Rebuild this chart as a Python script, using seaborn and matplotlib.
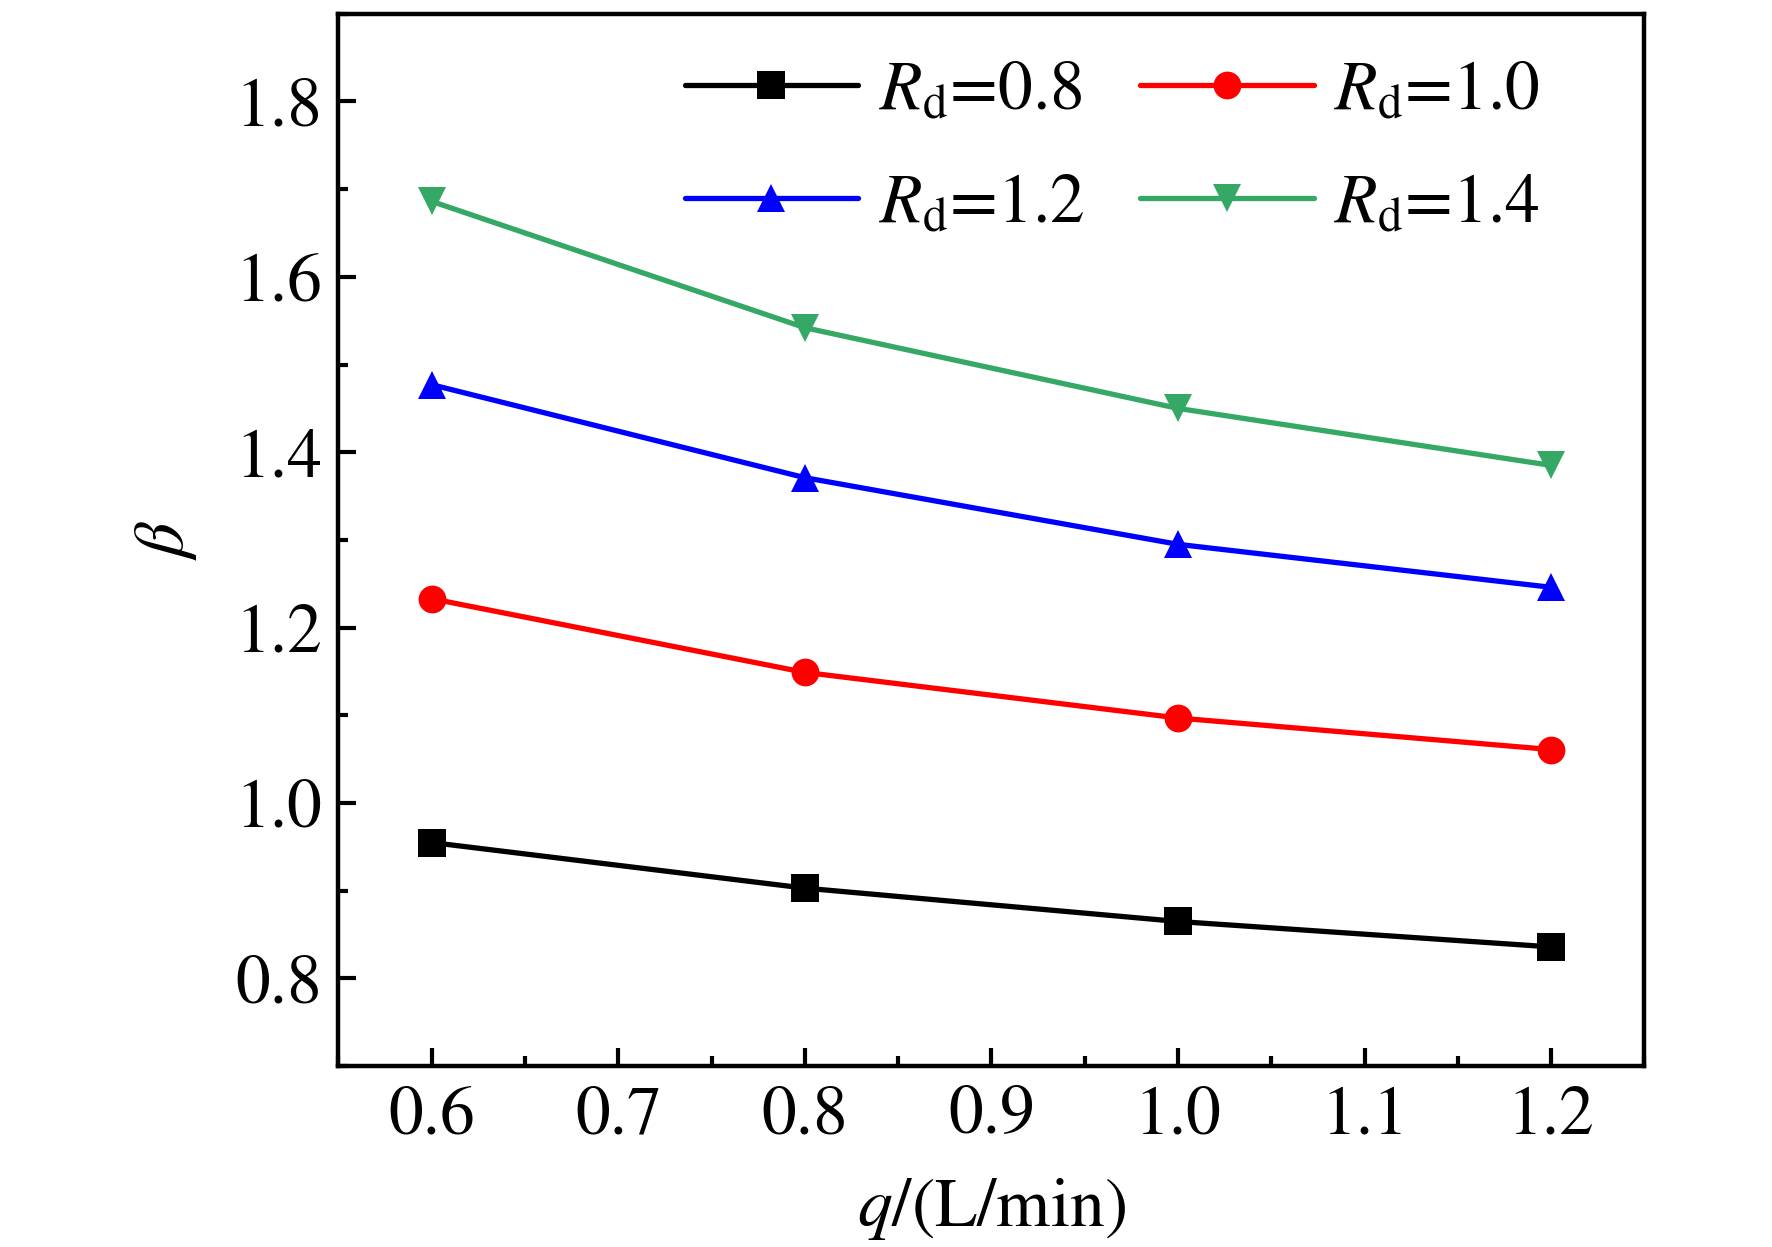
import pandas as pd
import matplotlib
matplotlib.use("Agg")
import matplotlib.pyplot as plt
from matplotlib.ticker import MultipleLocator, FormatStrFormatter
import seaborn as sns

# values
q = [0.6, 0.8, 1.0, 1.2]
beta_08 = [0.955, 0.903, 0.865, 0.836]
beta_10 = [1.233, 1.149, 1.097, 1.061]
beta_12 = [1.477, 1.371, 1.295, 1.246]
beta_14 = [1.686, 1.542, 1.450, 1.385]
series_names = [r"$R_{\mathrm{d}}$=0.8", r"$R_{\mathrm{d}}$=1.0",
                r"$R_{\mathrm{d}}$=1.2", r"$R_{\mathrm{d}}$=1.4"]

df = pd.concat([
    pd.DataFrame({"q": q, "beta": b, "Rd": n})
    for b, n in zip([beta_08, beta_10, beta_12, beta_14], series_names)
], ignore_index=True)

sns.set_style("ticks")
plt.rcParams["font.family"] = ["STIXGeneral", "Liberation Serif", "DejaVu Serif"]
plt.rcParams["mathtext.fontset"] = "stix"
plt.rcParams["xtick.direction"] = "in"
plt.rcParams["ytick.direction"] = "in"
plt.rcParams["text.color"] = "black"
plt.rcParams["axes.labelcolor"] = "black"
plt.rcParams["xtick.color"] = "black"
plt.rcParams["ytick.color"] = "black"
plt.rcParams["axes.edgecolor"] = "black"

colors = ["#000000", "#FF0000", "#0000FF", "#35A866"]
markers = ["s", "o", "^", "v"]

fig, ax = plt.subplots(figsize=(8.86, 6.235), dpi=200)
fig.subplots_adjust(left=0.191, right=0.928, top=0.989, bottom=0.145)

sns.lineplot(data=df, x="q", y="beta", hue="Rd", style="Rd",
             palette=dict(zip(series_names, colors)),
             markers=dict(zip(series_names, markers)),
             dashes=False, linewidth=1.9, markersize=10,
             markeredgewidth=0, ax=ax)

ax.set_xlim(0.55, 1.25)
ax.set_ylim(0.7, 1.9)
ax.xaxis.set_major_locator(MultipleLocator(0.1))
ax.xaxis.set_minor_locator(MultipleLocator(0.05))
ax.yaxis.set_major_locator(MultipleLocator(0.2))
ax.yaxis.set_minor_locator(MultipleLocator(0.1))
ax.xaxis.set_major_formatter(FormatStrFormatter("%.1f"))
ax.yaxis.set_major_formatter(FormatStrFormatter("%.1f"))
ax.tick_params(which="major", length=6.5, width=1.5, labelsize=25)
ax.tick_params(axis="x", which="major", pad=7)
ax.tick_params(axis="y", which="major", pad=6)
ax.tick_params(which="minor", length=3.5, width=1.5)
for sp in ax.spines.values():
    sp.set_linewidth(1.6)

ax.set_xlabel("$q$/(L/min)", fontsize=25, labelpad=10)
ax.set_ylabel(r"$\beta$", fontsize=25, labelpad=13)

handles, labels = ax.get_legend_handles_labels()
order = [0, 2, 1, 3]  # row-wise order: 0.8, 1.0 / 1.2, 1.4
ax.legend(handles=[handles[i] for i in order],
          labels=[labels[i] for i in order], ncol=2, frameon=False,
          loc="upper left", bbox_to_anchor=(0.265, 0.955),
          borderpad=0, borderaxespad=0, fontsize=25,
          handlelength=2.5, handletextpad=0.3, columnspacing=0.8,
          labelspacing=0.7)

fig.savefig("out.png", dpi=200)
